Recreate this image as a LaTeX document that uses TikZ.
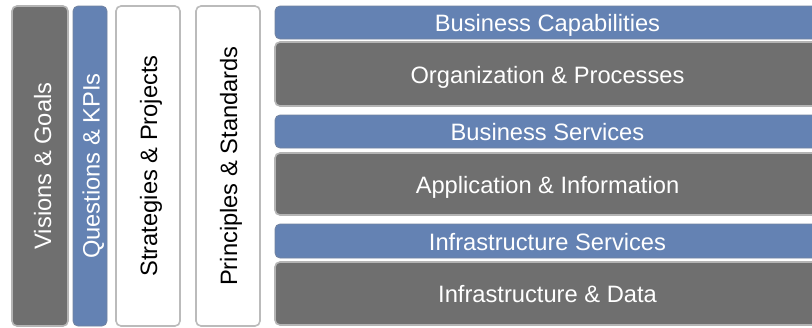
\documentclass[tikz,border=0pt]{standalone}
\usepackage{fontspec}
\setmainfont{Liberation Sans}
\definecolor{boxgray}{HTML}{6F6F6F}
\definecolor{boxblue}{HTML}{6482B3}
\definecolor{edgegray}{HTML}{B4B4B4}
\begin{document}
\begin{tikzpicture}[x=1pt,y=-1pt,
  base/.style={rounded corners=5pt, inner sep=0pt, line width=1.6pt,
    draw=edgegray},
  graybox/.style={base, fill=boxgray},
  bluebox/.style={base, fill=boxblue, draw=boxblue!85!black!70!edgegray, line width=0.8pt},
  whitebox/.style={base, fill=white, draw=edgegray!90!white},
  lbl/.style={font=\fontsize{23.7}{28}\selectfont, inner sep=0pt, anchor=base},
  vlbl/.style={lbl, rotate=90},
]
\useasboundingbox (0,0) rectangle (812,327);
\clip (0,0) rectangle (812,327);
\fill[white] (0,0) rectangle (812,327);

% left columns
\node[graybox, minimum width=56pt, minimum height=320pt] (vis) at (40,166) {};
\node[bluebox, minimum width=34pt, minimum height=320pt] (kpi) at (90,166) {};
\node[whitebox, minimum width=64pt, minimum height=320pt] (str) at (148,166) {};
\node[whitebox, minimum width=64pt, minimum height=320pt] (pri) at (228,166) {};

\node[vlbl, text=white] (visT) at (51,166) {Visions \& Goals};
\node[vlbl, text=white] (kpiT) at (99.5,166) {Questions \& KPIs};
\node[vlbl, text=black] (strT) at (157,166) {Strategies \& Projects};
\node[vlbl, text=black] (priT) at (237,166) {Principles \& Standards};

% right stack
\node[bluebox, minimum width=545pt, minimum height=33pt] (bc) at (547.5,22.5) {};
\node[graybox, minimum width=545pt, minimum height=64pt] (op) at (547.5,74) {};
\node[bluebox, minimum width=545pt, minimum height=33pt] (bs) at (547.5,131.5) {};
\node[graybox, minimum width=545pt, minimum height=62pt] (ai) at (547.5,184) {};
\node[bluebox, minimum width=545pt, minimum height=34pt] (is) at (547.5,241) {};
\node[graybox, minimum width=545pt, minimum height=63pt] (id) at (547.5,293.5) {};

\node[lbl, text=white] (bcT) at ([yshift=-9pt]bc.center) {Business Capabilities};
\node[lbl, text=white] (opT) at ([yshift=-9pt]op.center) {Organization \& Processes};
\node[lbl, text=white] (bsT) at ([yshift=-9pt]bs.center) {Business Services};
\node[lbl, text=white] (aiT) at ([yshift=-9pt]ai.center) {Application \& Information};
\node[lbl, text=white] (isT) at ([yshift=-9pt]is.center) {Infrastructure Services};
\node[lbl, text=white] (idT) at ([yshift=-9pt]id.center) {Infrastructure \& Data};
\end{tikzpicture}
\end{document}
